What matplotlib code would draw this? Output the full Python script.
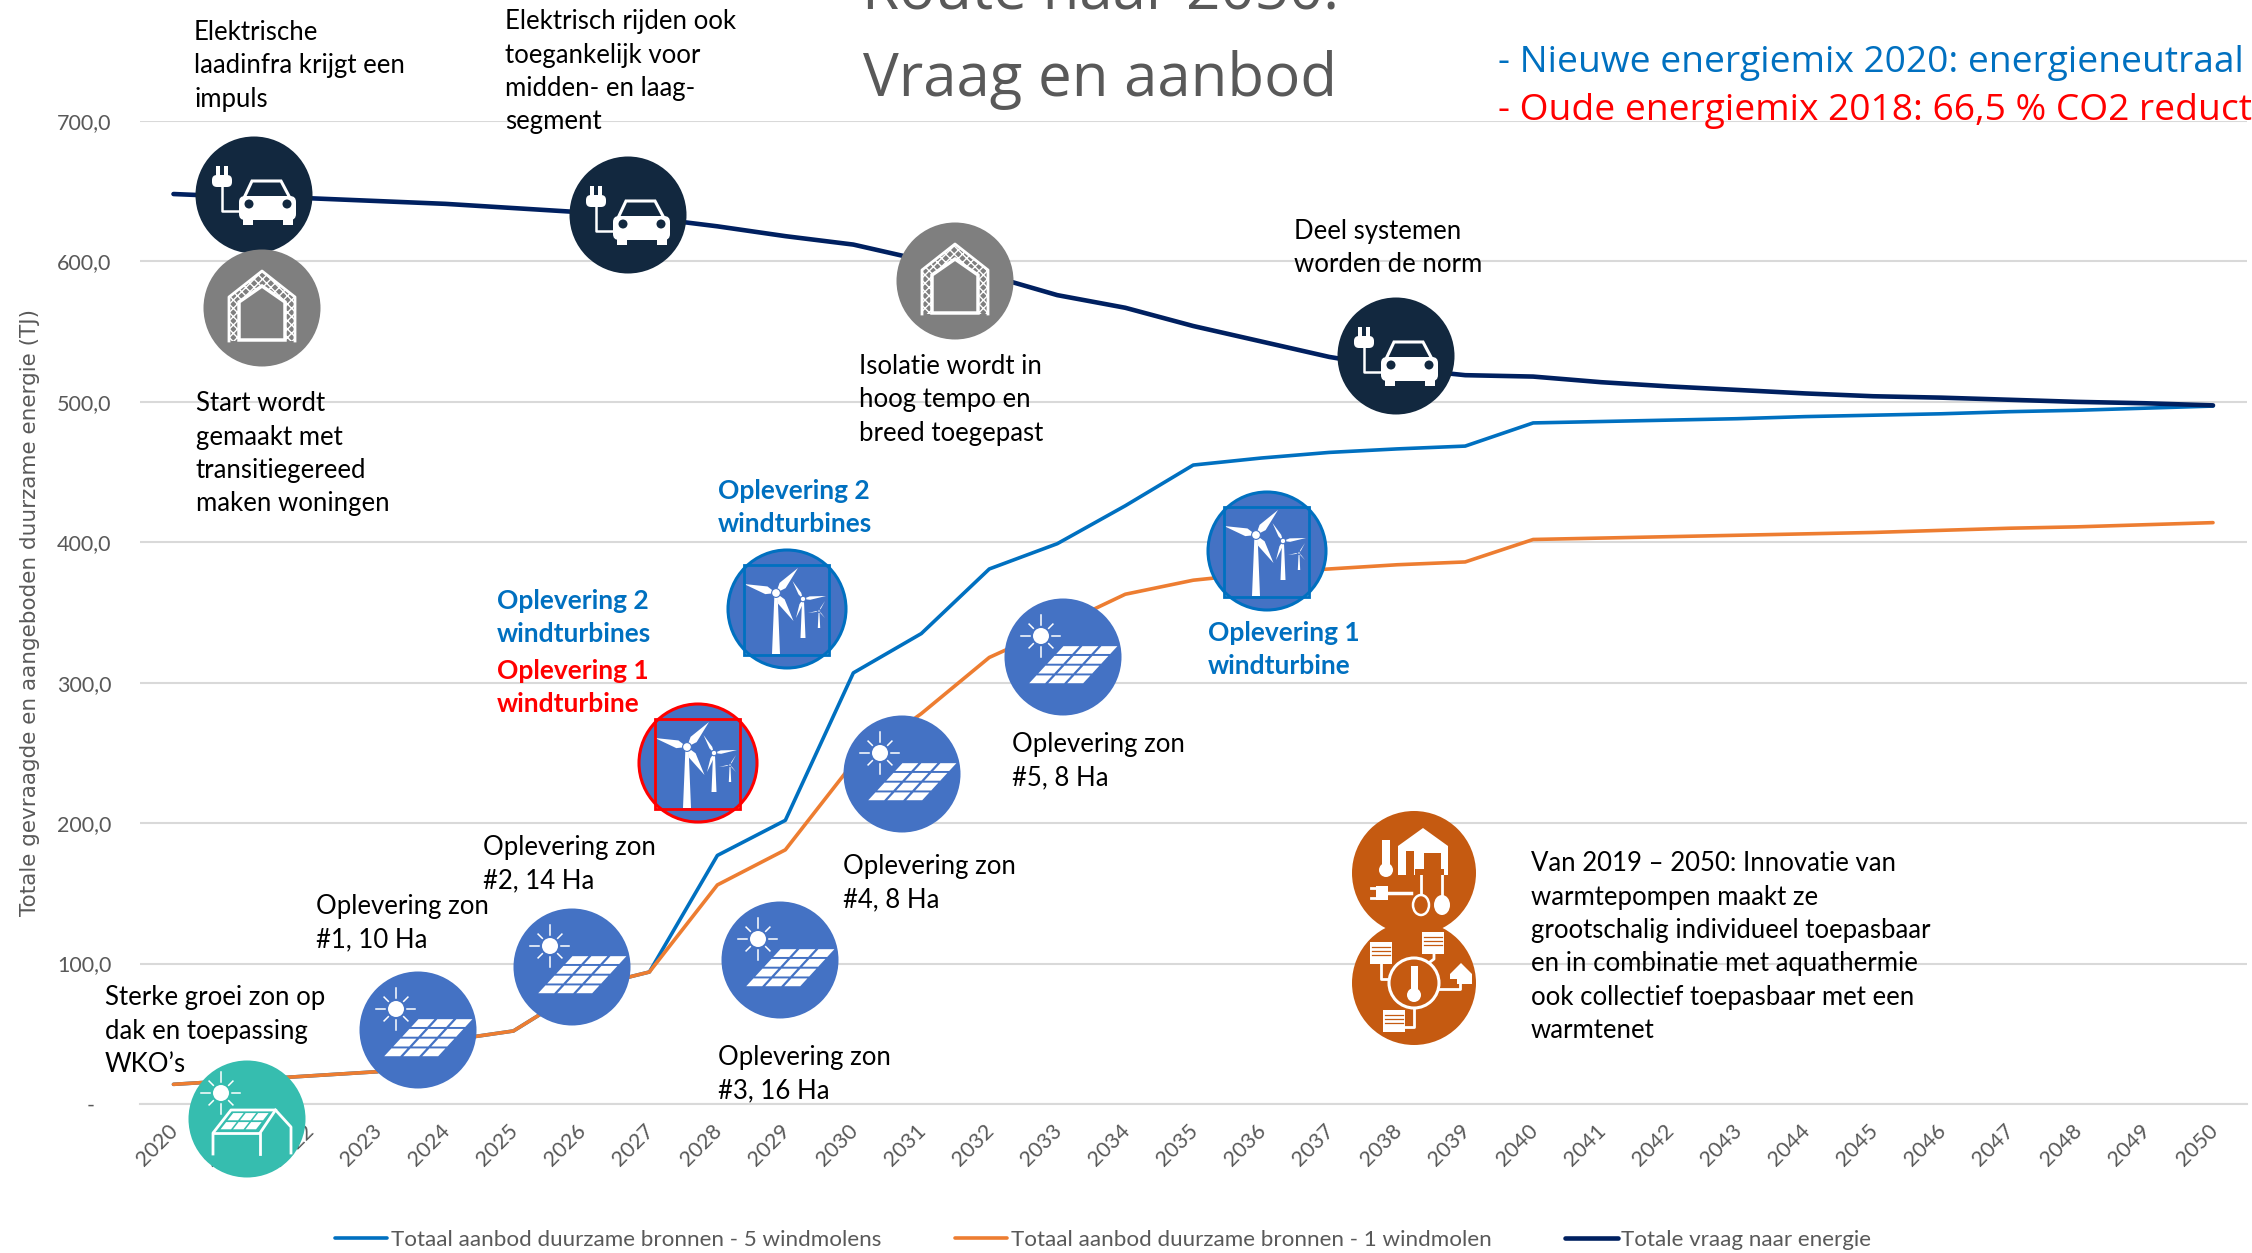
import matplotlib
matplotlib.use('Agg')
import matplotlib.pyplot as plt
from matplotlib.patches import Circle, Ellipse, Polygon, Rectangle, FancyBboxPatch
from matplotlib.transforms import ScaledTranslation

# Chart data
years = [str(y) for y in range(2020, 2051)]
aanbod_5 = [14, 17, 20, 23, 45, 52, 82, 94, 177, 202, 307, 335, 381, 399, 426, 455,
            460, 464, 466.5, 468.5, 485, 486, 487, 488, 489.5, 490.5, 491.5, 493, 494, 495.5, 497]
aanbod_1 = [14, 17, 20, 23, 45, 52, 82, 94, 156, 181, 243, 278, 318, 340, 363, 373,
            378, 381, 384, 386, 402, 403, 404, 405, 406, 407, 408.5, 410, 411, 412.5, 414]
vraag = [648, 646, 645, 643, 641, 638, 635, 631, 625, 618, 612, 601, 590, 576, 567, 554,
         543, 532, 524, 519, 518, 514, 511, 508.5, 506, 504, 503, 501.5, 500, 499, 497.5]
y_ticks = [0, 100, 200, 300, 400, 500, 600, 700]
y_tick_labels = ['-\u00a0\u00a0\u00a0', '100,0', '200,0', '300,0', '400,0', '500,0', '600,0', '700,0']
legend_labels = ['Totaal aanbod duurzame bronnen - 5 windmolens',
                 'Totaal aanbod duurzame bronnen - 1 windmolen',
                 'Totale vraag naar energie']

W, H = 2252, 1253
BLUE = '#0070C0'
ORANGE = '#ED7D31'
NAVY = '#002060'
GREY = '#595959'
FONT = 'Lato'

fig = plt.figure(figsize=(W / 100, H / 100), dpi=100)
ax = fig.add_axes([139.5 / W, 1 - 1104 / H, (2247 - 139.5) / W, (1104 - 121) / H])

ax.plot(years, aanbod_5, color=BLUE, lw=2.6, solid_capstyle='round', label=legend_labels[0])
ax.plot(years, aanbod_1, color=ORANGE, lw=2.6, solid_capstyle='round', label=legend_labels[1])
ax.plot(years, vraag, color=NAVY, lw=3.3, solid_capstyle='round', label=legend_labels[2])

ax.set_xlim(-0.5, 30.5)
ax.set_ylim(0, 700)
ax.set_yticks(y_ticks)
ax.set_yticklabels(y_tick_labels, fontname=FONT, fontsize=15.5, color=GREY)
ax.tick_params(axis='y', length=0, pad=20)
ax.tick_params(axis='x', length=0, pad=12)
shift = ScaledTranslation(-4 / 72, 0, fig.dpi_scale_trans)
for lab in ax.get_xticklabels():
    lab.set(rotation=45, ha='right', rotation_mode='anchor', fontname=FONT, fontsize=15.5, color=GREY)
    lab.set_transform(lab.get_transform() + shift)
ax.grid(axis='y', color='#D9D9D9', lw=1.5)
ax.set_axisbelow(True)
for side in ['top', 'left', 'right']:
    ax.spines[side].set_visible(False)
ax.spines['bottom'].set_color('#D9D9D9')
ax.spines['bottom'].set_linewidth(1.5)

ax.set_ylabel('Totale gevraagde en aangeboden duurzame energie (TJ)', fontsize=15.5, color=GREY)
ax.yaxis.set_label_coords((40 - 139.5) / (2247 - 139.5), (1104 - 613) / (1104 - 121))

leg = ax.legend(loc='center', bbox_to_anchor=(1103 / W, 1 - 1240 / H), bbox_transform=fig.transFigure,
                ncol=3, frameon=False, prop={'family': FONT, 'size': 16.1},
                handlelength=2.35, handletextpad=0.15, columnspacing=3.3, borderpad=0)
for t in leg.get_texts():
    t.set_color(GREY)

# Overlay in pixel coordinates for icons and callouts
ov = fig.add_axes([0, 0, 1, 1], facecolor='none')
ov.set_xlim(0, W)
ov.set_ylim(H, 0)
ov.axis('off')


def txt(x, y, lines, color='black', weight='normal', size=18.5, family=FONT, step=33.5):
    for i, line in enumerate(lines):
        ov.text(x, y + 9 + i * step, line, color=color, fontweight=weight, fontsize=size,
                family=family, va='baseline', ha='left')


def sun(cx, cy, r=8):
    ov.add_patch(Circle((cx, cy), r, fc='white', ec='none', zorder=6))
    for dx, dy, a, b in [(0, -1, 11, 21), (0, 1, 11, 21), (-1, 0, 11, 20), (1, 0, 11, 19),
                         (.7, .7, 11, 17), (-.7, .7, 11, 17), (.7, -.7, 11, 17), (-.7, -.7, 11, 17)]:
        ov.plot([cx + dx * a, cx + dx * b], [cy + dy * a, cy + dy * b], color='white', lw=1.1, zorder=6)


def panels(x0, y0, uw, skew, vh, nu, nv):
    # parallelogram grid, (x0, y0) is the front left corner
    for v in range(nv):
        for u in range(nu):
            pts = []
            for a, b in [(.08, .08), (.92, .08), (.92, .88), (.08, .88)]:
                pts.append((x0 + (u + a) * uw + (v + b) * skew, y0 - (v + b) * vh))
            ov.add_patch(Polygon(pts, fc='white', ec='none', zorder=6))


def sun_icon(cx, cy):
    ov.add_patch(Circle((cx, cy), 58.5, fc='#4472C4', ec='none', zorder=5))
    sun(cx - 22, cy - 21)
    panels(cx - 36, cy + 27, 19, 9, 9.75, 3, 4)


def teal_icon(cx, cy):
    ov.add_patch(Circle((cx, cy), 58.5, fc='#36BDAF', ec='none', zorder=5))
    sun(cx - 26, cy - 26)
    ov.plot([cx - 34, cx - 34, cx - 16, cx + 28.5, cx + 44, cx + 44],
            [cy + 35, cy + 14, cy - 9, cy - 9, cy + 8, cy + 34], color='white', lw=2, zorder=6)
    ov.plot([cx - 34, cx + 13, cx + 13], [cy + 14, cy + 14, cy + 35], color='white', lw=2, zorder=6)
    ov.plot([cx + 13, cx + 28.5], [cy + 14, cy - 9], color='white', lw=2, zorder=6)
    panels(cx - 28, cy + 11, 12.5, 7, 9, 3, 2)


def car_icon(cx, cy):
    dark = '#12283F'
    ov.add_patch(Circle((cx, cy), 58.5, fc=dark, ec='none', zorder=5))
    # plug and cord
    ov.add_patch(FancyBboxPatch((cx - 41, cy - 19), 18, 10, boxstyle='round,pad=1,rounding_size=5',
                                fc='white', ec='none', zorder=6))
    ov.add_patch(Rectangle((cx - 38, cy - 29), 4, 11, fc='white', ec='none', zorder=6))
    ov.add_patch(Rectangle((cx - 30, cy - 29), 4, 11, fc='white', ec='none', zorder=6))
    ov.plot([cx - 32, cx - 32, cx - 15], [cy - 8, cy + 16, cy + 16], color='white', lw=1.8, zorder=6)
    # car
    ov.add_patch(Polygon([(cx - 10, cy + 3), (cx - 2, cy - 14), (cx + 27, cy - 14), (cx + 36, cy + 3)],
                         fc=dark, ec='white', lw=2.2, zorder=6))
    ov.add_patch(FancyBboxPatch((cx - 12, cy + 4), 51, 18, boxstyle='round,pad=3,rounding_size=6',
                                fc='white', ec='none', zorder=6))
    for wx in [cx - 11, cx + 29]:
        ov.add_patch(Rectangle((wx, cy + 22), 10, 8, fc='white', ec='none', zorder=6))
    for hx in [cx - 5, cx + 33]:
        ov.add_patch(Circle((hx, cy + 9), 4.5, fc=dark, ec='none', zorder=7))


def house_icon(cx, cy):
    grey = '#7F7F7F'
    ov.add_patch(Circle((cx, cy), 58.5, fc=grey, ec='none', zorder=5))
    outer = [(cx - 33, cy + 33), (cx - 33, cy - 11), (cx, cy - 37), (cx + 33, cy - 11), (cx + 33, cy + 33)]
    inner = [(cx - 23, cy + 32), (cx - 23, cy - 6), (cx, cy - 22), (cx + 23, cy - 6), (cx + 23, cy + 32)]
    ov.add_patch(Polygon(outer, closed=True, fc='none', ec='white', lw=0, hatch='xxxx', zorder=6))
    ov.plot([p[0] for p in outer], [p[1] for p in outer], color='white', lw=2, zorder=7)
    ov.add_patch(Polygon(inner, closed=True, fc=grey, ec='white', lw=2.5, zorder=7))


def turbine(x, y, tower, size, tips):
    ov.add_patch(Polygon([(x - size * .4, y + 2), (x + size * .4, y + 2), (x + size, y + tower),
                          (x - size, y + tower)], fc='white', ec='none', zorder=6))
    for tx, ty in tips:
        # blade tapers from the hub outwards
        nx, ny = (ty - y) * size * .03, (x - tx) * size * .03
        mx, my = x + (tx - x) * .3, y + (ty - y) * .3
        ov.add_patch(Polygon([(x, y), (mx - nx, my - ny), (tx, ty), (mx + nx, my + ny)],
                             fc='white', ec='none', zorder=6))
    ov.add_patch(Circle((x, y), size * 1.1, fc='white', ec='#4472C4', lw=.8, zorder=7))


def wind_icon(cx, cy, color):
    ov.add_patch(Circle((cx, cy), 59, fc='#4472C4', ec=color, lw=2.2, zorder=5))
    sx, sy = cx - 1, cy + 1
    ov.add_patch(Rectangle((sx - 42.5, sy - 45), 85, 90, fc='none', ec=color, lw=2, zorder=8))
    turbine(sx - 10, sy - 17, 61, 4, [(sx + 12, sy - 42), (sx - 42, sy - 26), (sx + 7.5, sy + 11)])
    turbine(sx + 17, sy - 11, 39, 2.5, [(sx + 6.5, sy - 29), (sx + 40, sy - 14), (sx + 10, sy + 8)])
    turbine(sx + 33, sy + 1, 17, 1.2, [(sx + 39, sy - 9), (sx + 22, sy + 3), (sx + 39, sy + 8)])


def heat_icon(cx, cy):
    c = '#C55A11'
    ov.add_patch(Circle((cx, cy), 62, fc=c, ec='none', zorder=5))
    ov.add_patch(Polygon([(cx - 16, cy - 27), (cx + 9, cy - 45), (cx + 34, cy - 27), (cx + 34, cy + 2),
                          (cx - 16, cy + 2)], fc='white', ec='none', zorder=6))
    ov.add_patch(Rectangle((cx - 8, cy - 22), 8, 25, fc=c, ec='none', zorder=7))
    ov.add_patch(Rectangle((cx + 10, cy - 20), 17, 16, fc=c, ec='none', zorder=7))
    ov.add_patch(Rectangle((cx + 1, cy - 4), 29, 6, fc=c, ec='none', zorder=7))
    ov.add_patch(Rectangle((cx - 32, cy - 33), 8, 28, fc='white', ec='none', zorder=6))
    ov.add_patch(Circle((cx - 28, cy - 3), 7, fc='white', ec='none', zorder=6))
    # plug
    ov.add_patch(Rectangle((cx - 38, cy + 13), 12, 14, fc='white', ec='none', zorder=6))
    ov.plot([cx - 43, cx - 30], [cy + 15, cy + 15], color='white', lw=2, zorder=6)
    ov.plot([cx - 43, cx - 30], [cy + 25, cy + 25], color='white', lw=2, zorder=6)
    ov.plot([cx - 28, cx - 3], [cy + 20, cy + 20], color='white', lw=2.5, zorder=6)
    # two buffers
    ov.plot([cx + 7, cx + 7], [cy, cy + 22], color='white', lw=2, zorder=6)
    ov.plot([cx + 28, cx + 28], [cy, cy + 22], color='white', lw=2, zorder=6)
    ov.add_patch(Ellipse((cx + 7, cy + 32), 16, 20, fc=c, ec='white', lw=1.8, zorder=6))
    ov.add_patch(Ellipse((cx + 28, cy + 32), 16, 20, fc='white', ec='none', zorder=6))


def block(x, y):
    ov.add_patch(Rectangle((x - 11, y - 11), 22, 22, fc='white', ec='none', zorder=6))
    for k in [-6, -2, 2]:
        ov.plot([x - 9, x + 9], [y + k, y + k], color='#C55A11', lw=.9, zorder=7)


def net_icon(cx, cy):
    c = '#C55A11'
    ov.add_patch(Circle((cx, cy), 62, fc=c, ec='none', zorder=5))
    for pts in [[(cx - 33, cy - 20), (cx - 33, cy - 4), (cx - 23, cy - 4)],
                [(cx + 20, cy - 30), (cx + 20, cy - 24), (cx + 12, cy - 18)],
                [(cx + 25, cy + 6), (cx + 46, cy + 6), (cx + 46, cy - 6)],
                [(cx, cy + 25), (cx, cy + 44), (cx - 12, cy + 44)]]:
        ov.plot([p[0] for p in pts], [p[1] for p in pts], color='white', lw=2, zorder=6)
    ov.add_patch(Ellipse((cx, cy), 50, 50, fc=c, ec='white', lw=2.2, zorder=6))
    ov.add_patch(Rectangle((cx - 3.5, cy - 17), 7, 26, fc='white', ec='none', zorder=7))
    ov.add_patch(Circle((cx, cy + 12), 7, fc='white', ec='none', zorder=7))
    block(cx - 33, cy - 30)
    block(cx + 19, cy - 40)
    block(cx - 20, cy + 38)
    ov.add_patch(Polygon([(cx + 36, cy - 9), (cx + 47, cy - 20), (cx + 58, cy - 9), (cx + 58, cy + 1),
                          (cx + 43, cy + 1), (cx + 43, cy - 4), (cx + 36, cy - 4)],
                         fc='white', ec='none', zorder=6))


# Icons
car_icon(254, 195)
car_icon(628, 215)
car_icon(1396, 356)
house_icon(262, 308)
house_icon(955, 281)
teal_icon(247, 1119)
sun_icon(418, 1030)
sun_icon(572, 967)
sun_icon(780, 960)
sun_icon(902, 774)
sun_icon(1063, 657)
wind_icon(698, 763, '#FF0000')
wind_icon(787, 609, BLUE)
wind_icon(1267, 551, BLUE)
heat_icon(1414, 873)
net_icon(1414, 983)

# Callouts
txt(194, 31, ['Elektrische', 'laadinfra krijgt een', 'impuls'])
txt(505, 20, ['Elektrisch rijden ook', 'toegankelijk voor', 'midden- en laag-', 'segment'])
txt(196, 402, ['Start wordt', 'gemaakt met', 'transitiegereed', 'maken woningen'])
txt(859, 365, ['Isolatie wordt in', 'hoog tempo en', 'breed toegepast'])
txt(1294, 230, ['Deel systemen', 'worden de norm'])
txt(718, 490, ['Oplevering 2', 'windturbines'], color=BLUE, weight='bold', size=19)
txt(497, 600, ['Oplevering 2', 'windturbines'], color=BLUE, weight='bold', size=19)
txt(497, 670, ['Oplevering 1', 'windturbine'], color='#FF0000', weight='bold', size=19)
txt(1208, 632, ['Oplevering 1', 'windturbine'], color=BLUE, weight='bold', size=19)
txt(316, 905, ['Oplevering zon', '#1, 10 Ha'])
txt(483, 846, ['Oplevering zon', '#2, 14 Ha'])
txt(718, 1056, ['Oplevering zon', '#3, 16 Ha'])
txt(843, 865, ['Oplevering zon', '#4, 8 Ha'])
txt(1012, 743, ['Oplevering zon', '#5, 8 Ha'])
txt(105, 996, ['Sterke groei zon op', 'dak en toepassing', 'WKO\u2019s'])
txt(1531, 862, ['Van 2019 \u2013 2050: Innovatie van', 'warmtepompen maakt ze',
                'grootschalig individueel toepasbaar', 'en in combinatie met aquathermie',
                'ook collectief toepasbaar met een', 'warmtenet'])

# Title and energy mix notes
ov.text(1100, 96, 'Vraag en aanbod', fontsize=43.2, color=GREY, family='Open Sans', ha='center', va='baseline')
ov.text(1100, 10, 'Route naar 2050:', fontsize=43.2, color=GREY, family='Open Sans', ha='center', va='baseline')
ov.text(1498, 72, '- Nieuwe energiemix 2020: energieneutraal', fontsize=26.7, color=BLUE, family='Open Sans', va='baseline')
ov.text(1498, 120, '- Oude energiemix 2018: 66,5 % CO2 reductie', fontsize=26.7, color='#FF0000', family='Open Sans', va='baseline')

fig.savefig('out.png', dpi=100)
